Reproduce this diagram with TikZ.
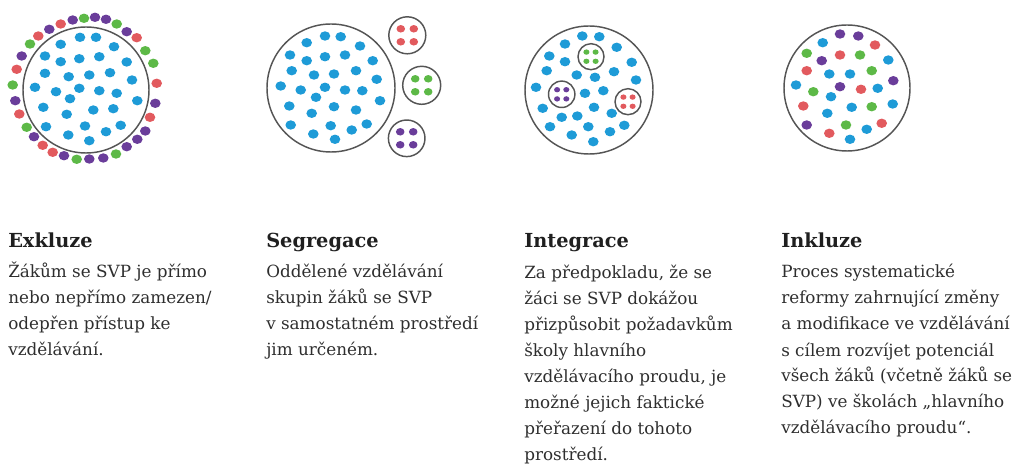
\documentclass[tikz,border=0pt]{standalone}
\usepackage{fontspec}
\setmainfont{DejaVu Serif}
\usepackage{tikz}
\usetikzlibrary{positioning}
\definecolor{modra}{HTML}{1E9BD7}
\definecolor{cervena}{HTML}{E25A5E}
\definecolor{zelena}{HTML}{5DB947}
\definecolor{fialova}{HTML}{6A3D9A}
\definecolor{obrys}{HTML}{555555}
\definecolor{pismo}{HTML}{2E2E2E}
\tikzset{
x=0.75pt, y=-0.75pt, % one unit is one pixel, y runs downwards
kruh/.style={draw=obrys, line width=1.1pt}, % the outline of every group
nadpis/.style={anchor=base west, inner sep=0pt, text=black!88, font=\fontsize{14.5}{16}\selectfont\bfseries}, % heading under a picture
popis/.style={anchor=base west, inner sep=0pt, align=left, text=pismo, font=\fontsize{12.6}{19.5}\selectfont}, % text under a heading, anchored at its last line
}
% one coloured pupil at each point of the list
\newcommand{\tecky}[2]{\foreach \x/\y in {#2} \fill[#1] (\x,\y) ellipse [x radius=5.3, y radius=4.7];}
% four small pupils round a centre
\newcommand{\ctverice}[4]{\foreach \dx/\dy in {-#4/-#4, #4/-#4, -#4/#4, #4/#4} \fill[#1] (#2+\dx,#3+\dy) ellipse [x radius=0.66*#4, y radius=0.58*#4];}

\begin{document}
\begin{tikzpicture}
\useasboundingbox (0,0) rectangle (1014,466);

% Exkluze
\draw[kruh] (86,90) circle [radius=63];
\tecky{modra}{80/37.3,96/37.3,60.7/44.3,114/46.7,45/56,60.7/61.7,79.3/58.7,99.3/56.7,126.7/62,45/73.3,68.7/76.7,89.3/75,110/72.7,132/80,35/87.3,56/91.7,79.3/88.3,99.3/90.7,116.7/93.3,137.3/100.7,70/98.7,43.3/107.3,93.3/110,113.3/108.7,66.7/114.3,46/126.7,85/126,120.7/125.3,106/131.7,68.3/135,89.3/140.7}
\tecky{fialova}{72.7/20,95/17.3,106/19.3,126.7/31.7,155.3/103.3,145.3/131,137.3/139.3,126.7/146.7,103.3/158,89.3/159,64/155.7,34/136.7,15.3/100.7,21.7/56,49.3/29.3}
\tecky{zelena}{84/18.3,116.7/24,145.3/50.7,153.3/63.3,116/154,76.7/159.3,26.7/127.3,12.7/85,30/44}
\tecky{cervena}{136.7/37.7,156.7/83.3,150/117.3,52.7/152.3,42.7/145.3,19.3/114,16.7/69.3,38.3/36,60.7/24}

% Segregace
\draw[kruh] (331,88) circle [radius=64];
\tecky{modra}{325/36,340.7/36.7,306.7/42.7,360/46,290/55,306.7/60.7,325/56.7,345/55,372.7/60.7,291.7/70.7,314/75,334/74,356/70.7,376.7/79.3,280.7/86,300.7/90,325/87.3,345/90,362.3/90.7,316/97.3,380/100.7,289.3/106,311.7/113.3,334/106.7,356/110,290.7/125,330.7/125.7,366.7/124,351.7/130,313.3/134,335/139.3}
\draw[kruh] (407.3,35.3) circle [radius=18.5];
\draw[kruh] (421.7,85.3) circle [radius=19];
\draw[kruh] (406.7,138.3) circle [radius=18.3];
\ctverice{cervena}{407.3}{35.3}{6.5}
\ctverice{zelena}{421.7}{85.3}{6.5}
\ctverice{fialova}{406.7}{138.3}{6.5}

% Integrace
\draw[kruh] (589,90) circle [radius=64];
\tecky{modra}{582.3/36,599.3/36.7,565/44,616.7/47.3,549.3/56,565/61.7,631.7/62.3,546.7/70.7,576.7/75,595/77.3,614/71.7,636/80,536/87.3,585/93.3,603.3/90.7,542.7/108.3,594/107.3,611.7/113.3,561.7/117.3,577.3/116,550/126.7,588.3/126.7,624.3/125.3,610/131.7,571.7/135,593.3/141.7}
\draw[kruh] (591,56.7) circle [radius=13];
\draw[kruh] (561.7,94.3) circle [radius=13.2];
\draw[kruh] (628,101.7) circle [radius=13];
\ctverice{zelena}{591}{56.7}{4.6}
\ctverice{fialova}{561.7}{94.3}{4.6}
\ctverice{cervena}{628}{101.7}{4.6}

% Inkluze
\draw[kruh] (847,88) circle [radius=63];
\tecky{modra}{822.7/42.7,888.3/60,829.3/74,850/74,796/85,877.7/88.3,831/96.7,851.7/107.3,892.7/104,827.3/113.3,866.7/129.3,850/139.3}
\tecky{fialova}{840/34,858.3/36,821.7/60.7,893.3/80.7,840/86.7,806.7/125}
\tecky{zelena}{806.7/53.3,860/55,871.7/70.7,813.3/91.7,871.7/106.7,846/125}
\tecky{cervena}{875/45,840/55,806.7/70.7,861/89.3,803.3/106,881.7/123.3,829.3/133.3}

% texts
\node[nadpis] (exkluze) at (8,247.7) {Exkluze};
\node[nadpis] (segregace) at (266,247.7) {Segregace};
\node[nadpis] (integrace) at (524,247.7) {Integrace};
\node[nadpis] (inkluze) at (781,247.7) {Inkluze};
\node[popis] (exkluzetext) at (8,356) {Žákům se SVP je přímo\\nebo nepřímo zamezen/\\odepřen přístup ke\\vzdělávání.};
\node[popis] (segregacetext) at (266,356) {Oddělené vzdělávání\\skupin žáků se SVP\\v samostatném prostředí\\jim určeném.};
\node[popis] (integracetext) at (524,460) {Za předpokladu, že se\\žáci se SVP dokážou\\přizpůsobit požadavkům\\školy hlavního\\vzdělávacího proudu, je\\možné jejich faktické\\přeřazení do tohoto\\prostředí.};
\node[popis] (inkluzetext) at (781,434) {Proces systematické\\reformy zahrnující změny\\a modifikace ve vzdělávání\\s cílem rozvíjet potenciál\\všech žáků (včetně žáků se\\SVP) ve školách „hlavního\\vzdělávacího proudu“.};
\end{tikzpicture}
\end{document}
